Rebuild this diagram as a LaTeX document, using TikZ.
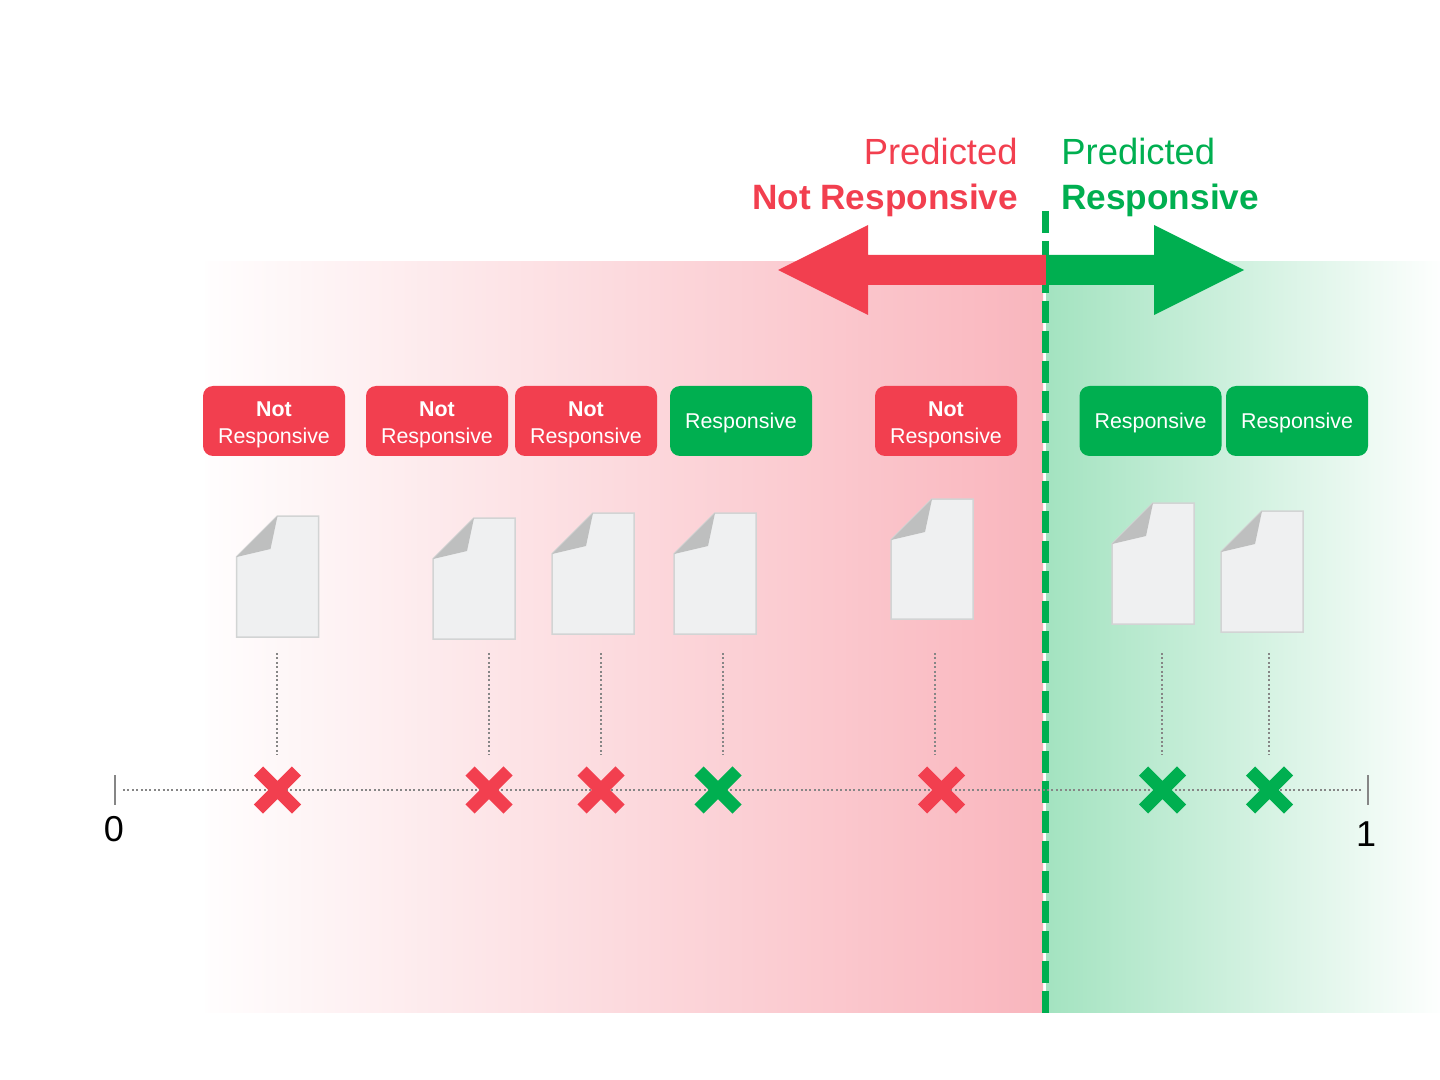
\documentclass[tikz,border=0pt]{standalone}
\usepackage{fontspec}
\setmainfont{Liberation Sans}
\usetikzlibrary{shapes.misc}
\definecolor{myred}{HTML}{F23F4F}
\definecolor{mygreen}{HTML}{00AF50}
\definecolor{bandred}{HTML}{F9B3BB}
\definecolor{bandgreen}{HTML}{A0E2BE}
\definecolor{paper}{HTML}{EFF0F1}
\definecolor{paperedge}{HTML}{D2D4D4}
\definecolor{fold}{HTML}{BEBFBF}
\definecolor{rulegrey}{HTML}{868686}
\tikzset{
  badge/.style={rounded corners=5pt,minimum width=71pt,minimum height=35pt,inner sep=0pt,outer sep=0pt,text=white,align=center,font=\fontsize{10.7}{13.5}\selectfont},
  redbadge/.style={badge,fill=myred},
  greenbadge/.style={badge,fill=mygreen},
  crossmark/.style={cross out,draw,line width=6.5pt,minimum size=19pt,inner sep=0pt,outer sep=0pt},
  redcross/.style={crossmark,draw=myred},
  greencross/.style={crossmark,draw=mygreen},
  dropline/.style={rulegrey,line width=0.9pt,dash pattern=on 1pt off 1.2pt},
  axisline/.style={rulegrey,line width=0.9pt,dash pattern=on 1pt off 1.2pt},
  tickline/.style={rulegrey,line width=0.9pt},
  sheet/.style={fill=paper,draw=paperedge,line width=0.75pt},
  sheetfold/.style={fill=fold},
  headreg/.style={inner sep=0pt,font=\fontsize{18.2}{22}\selectfont},
  headbold/.style={inner sep=0pt,font=\fontsize{17.6}{22}\selectfont\bfseries},
  axislabel/.style={inner sep=0pt,font=\fontsize{18}{22}\selectfont,text=black},
}
\newcommand{\docsheet}[3]{% x, y, height
  \draw[sheet] (#1+41,#2) -- (#1+82,#2) -- (#1+82,#2+#3) -- (#1,#2+#3) -- (#1,#2+41) -- cycle;
  \fill[sheetfold] (#1+41,#2) -- (#1,#2+41) -- (#1+34,#2+33) -- cycle;
}
\newcommand{\notresp}{\rule{0pt}{11pt}\textbf{Not}\\Responsive}
\newcommand{\resp}{\rule{0pt}{10pt}Responsive}
\begin{document}
\begin{tikzpicture}[x=0.5pt,y=-0.5pt]
\useasboundingbox (0,0) rectangle (1440,1080);
% bands
\begin{scope}
  \clip (205,261.5) rectangle (1043,1012.5);
  \shade[left color=white,right color=bandred,shading=axis] (190,261.5) rectangle (1072,1012.5);
\end{scope}
\begin{scope}
  \clip (1046,261.5) rectangle (1440,1012.5);
  \shade[left color=bandgreen,right color=white,shading=axis] (1032,261.5) rectangle (1447,1012.5);
\end{scope}
% threshold
\coordinate (divtop) at (1045,211);
\coordinate (divbot) at (1045,1013);
\draw[mygreen,line width=3.5pt,dash pattern=on 11pt off 4pt] (divtop) -- (divbot);
% arrows
\fill[myred] (1046,255) -- (868,255) -- (868,225) -- (778,270) -- (868,315) -- (868,285) -- (1046,285) -- cycle;
\fill[mygreen] (1046,255) -- (1154,255) -- (1154,225) -- (1244,270) -- (1154,315) -- (1154,285) -- (1046,285) -- cycle;
% headings
\node[headreg,anchor=base east,text=myred] (hl1) at (1018,165) {Predicted};
\node[headbold,anchor=base east,text=myred] (hl2) at (1018.5,210) {Not Responsive};
\node[headreg,anchor=base west,text=mygreen] (hr1) at (1061,165) {Predicted};
\node[headbold,anchor=base west,text=mygreen] (hr2) at (1061,210) {Responsive};
% badges
\node[redbadge] (b1) at (274,421) {\notresp};
\node[redbadge] (b2) at (437,421) {\notresp};
\node[redbadge] (b3) at (586,421) {\notresp};
\node[greenbadge] (b4) at (741,421) {\resp};
\node[redbadge] (b5) at (946,421) {\notresp};
\node[greenbadge] (b6) at (1150.5,421) {\resp};
\node[greenbadge] (b7) at (1297,421) {\resp};
% sheets
\docsheet{236.5}{516}{121}
\docsheet{433}{518}{121}
\docsheet{552}{513}{121}
\docsheet{674}{513}{121}
\docsheet{891}{499}{120}
\docsheet{1112}{503}{121}
\docsheet{1221}{511}{121}
% axis
\coordinate (axl) at (123,790);
\coordinate (axr) at (1363,790);
\draw[axisline] (axl) -- (axr);
\coordinate (t0a) at (115,775); \coordinate (t0b) at (115,805);
\coordinate (t1a) at (1368,775); \coordinate (t1b) at (1368,805);
\draw[tickline] (t0a) -- (t0b);
\draw[tickline] (t1a) -- (t1b);
\node[axislabel] (zero) at (114,829) {0};
\node[axislabel] (one) at (1366,834) {1};
% drop lines
\foreach \n/\x in {1/277,2/489,3/601,4/723,5/935,6/1162,7/1269}{
  \coordinate (da\n) at (\x,653);
  \coordinate (db\n) at (\x,755);
  \draw[dropline] (da\n) -- (db\n);
}
% crosses
\node[redcross] (c1) at (277.5,790) {};
\node[redcross] (c2) at (489,790) {};
\node[redcross] (c3) at (601,790) {};
\node[greencross] (c4) at (718,790) {};
\node[redcross] (c5) at (941.5,790) {};
\node[greencross] (c6) at (1162.5,790) {};
\node[greencross] (c7) at (1269.5,790) {};
\end{tikzpicture}
\end{document}
